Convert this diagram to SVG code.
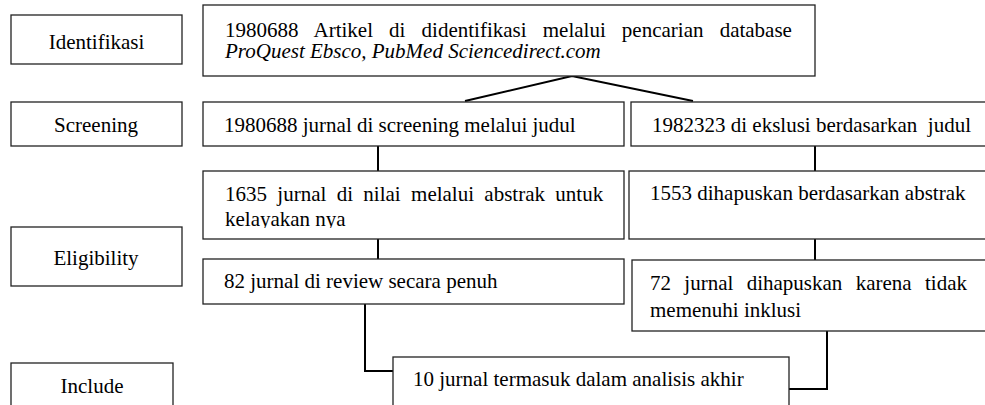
<svg xmlns="http://www.w3.org/2000/svg" width="985" height="405" viewBox="0 0 985 405">
<style>
  .box { fill: #fff; stroke: #222; stroke-width: 1.3; }
  .t { font-family: "Liberation Serif", "Times New Roman", serif; font-size: 21px; fill: #000; }
  .c { text-anchor: middle; }
  .it { font-style: italic; }
  .conn { fill: none; stroke: #000; stroke-width: 2; }
</style>
<defs>
  <clipPath id="clipAbs"><rect x="203" y="171" width="421" height="57"/></clipPath>
</defs>
<rect width="985" height="405" fill="#fff"/>

<g id="connectors">
  <polyline class="conn" points="465,101 572,76 693,101"/>
  <line class="conn" x1="378" y1="146" x2="378" y2="171"/>
  <line class="conn" x1="815" y1="146" x2="815" y2="171"/>
  <line class="conn" x1="378" y1="239" x2="378" y2="259"/>
  <line class="conn" x1="815" y1="239" x2="815" y2="260"/>
  <polyline class="conn" points="365,304 365,371 393,371"/>
  <polyline class="conn" points="827,331 827,389 789,389"/>
</g>

<g id="lbl-identifikasi">
  <rect class="box" x="11" y="15" width="171" height="49"/>
  <text class="t c" x="96.5" y="49">Identifikasi</text>
</g>
<g id="lbl-screening">
  <rect class="box" x="11" y="102" width="171" height="44"/>
  <text class="t c" x="96" y="132">Screening</text>
</g>
<g id="lbl-eligibility">
  <rect class="box" x="11" y="227" width="171" height="59"/>
  <text class="t c" x="96" y="265">Eligibility</text>
</g>
<g id="lbl-include">
  <rect class="box" x="11" y="363" width="162" height="60"/>
  <text class="t c" x="92" y="393">Include</text>
</g>

<g id="node-identified">
  <rect class="box" x="203" y="5" width="612" height="71"/>
  <text class="t" x="225" y="37" word-spacing="10.9">1980688 Artikel di didentifikasi melalui pencarian database</text>
  <text class="t it" x="225" y="58">ProQuest Ebsco, PubMed Sciencedirect.com</text>
</g>

<g id="node-screened">
  <rect class="box" x="203" y="102" width="421" height="44"/>
  <text class="t" x="224" y="132">1980688 jurnal di screening melalui judul</text>
</g>
<g id="node-excluded-title">
  <rect class="box" x="631" y="102" width="360" height="44"/>
  <text class="t" x="652" y="132" xml:space="preserve">1982323 di ekslusi berdasarkan  judul</text>
</g>

<g id="node-abstract">
  <rect class="box" x="203" y="171" width="421" height="68"/>
  <g clip-path="url(#clipAbs)">
    <text class="t" x="225" y="201" word-spacing="5.1">1635 jurnal di nilai melalui abstrak untuk</text>
    <text class="t" x="225" y="226">kelayakan nya</text>
  </g>
</g>
<g id="node-excluded-abstract">
  <rect class="box" x="629" y="171" width="362" height="68"/>
  <text class="t" x="650" y="200">1553 dihapuskan berdasarkan abstrak</text>
</g>

<g id="node-fulltext">
  <rect class="box" x="203" y="259" width="421" height="45"/>
  <text class="t" x="224" y="288">82 jurnal di review secara penuh</text>
</g>
<g id="node-excluded-fulltext">
  <rect class="box" x="632" y="260" width="359" height="71"/>
  <text class="t" x="650" y="290" word-spacing="8.1">72 jurnal dihapuskan karena tidak</text>
  <text class="t" x="650" y="317">memenuhi inklusi</text>
</g>

<g id="node-included">
  <rect class="box" x="393" y="357" width="396" height="60"/>
  <text class="t" x="413" y="386">10 jurnal termasuk dalam analisis akhir</text>
</g>
</svg>
